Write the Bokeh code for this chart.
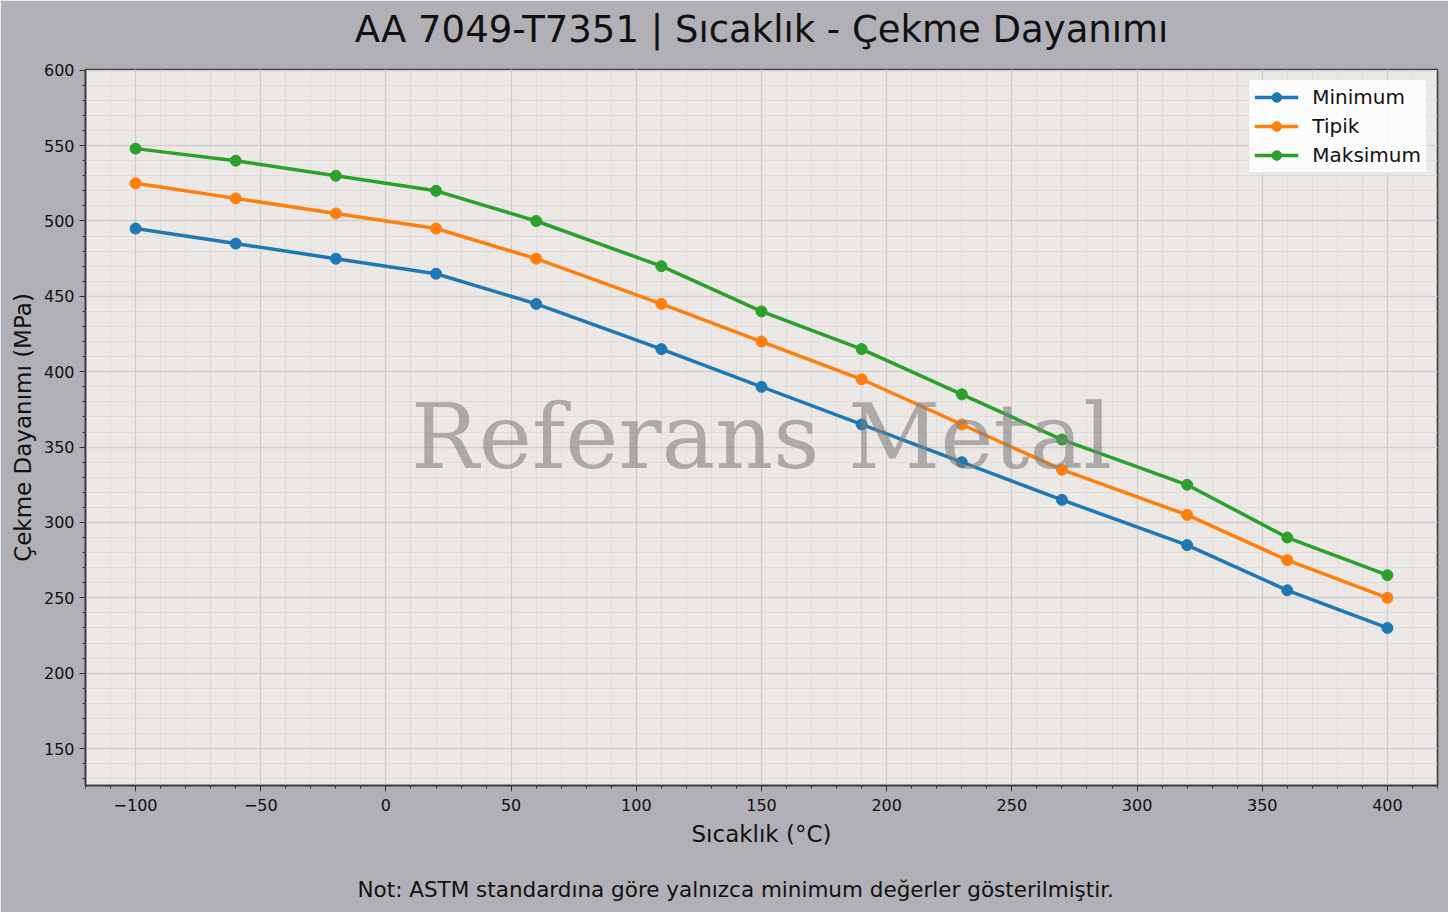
from bokeh.plotting import figure
from bokeh.embed import file_html
from bokeh.resources import INLINE
from bokeh.models import Label, Range1d, FixedTicker, Legend, Title

temps = [-100, -60, -20, 20, 60, 110, 150, 190, 230, 270, 320, 360, 400]
minimum = [495, 485, 475, 465, 445, 415, 390, 365, 340, 315, 285, 255, 230]
tipik = [525, 515, 505, 495, 475, 445, 420, 395, 365, 335, 305, 275, 250]
maksimum = [548, 540, 530, 520, 500, 470, 440, 415, 385, 355, 325, 290, 265]
x_ticks = [-100, -50, 0, 50, 100, 150, 200, 250, 300, 350, 400]
y_ticks = [150, 200, 250, 300, 350, 400, 450, 500, 550, 600]

series = [("Minimum", minimum, "#1f77b4"), ("Tipik", tipik, "#ff7f0e"), ("Maksimum", maksimum, "#2ca02c")]

FONT = "DejaVu Sans"
BG = "#b1b0b6"

p = figure(width=1448, height=912, output_backend="svg", toolbar_location=None,
           x_range=Range1d(-120, 420), y_range=Range1d(125.5, 600.5),
           min_border_left=85, min_border_right=11, min_border_bottom=20, min_border_top=10)
p.title = None
p.border_fill_color = BG
p.background_fill_color = "#ebe8e6"
p.outline_line_color = "#333333"
p.outline_line_width = 1.5

for ax in (p.xaxis[0], p.yaxis[0]):
    ax.axis_line_color = "#333333"
    ax.axis_line_width = 1.5
    ax.major_tick_line_color = "#333333"
    ax.minor_tick_line_color = "#333333"
    ax.major_tick_out = 6
    ax.major_tick_in = 0
    ax.minor_tick_out = 3
    ax.minor_tick_in = 0
    ax.major_label_text_font = FONT
    ax.major_label_text_font_size = "16px"
    ax.major_label_text_color = "#111111"
    ax.axis_label_text_font = FONT
    ax.axis_label_text_font_size = "23px"
    ax.axis_label_text_font_style = "normal"
    ax.axis_label_text_color = "#111111"

p.xaxis.major_label_standoff = 7
p.xaxis.axis_label_standoff = 7
p.yaxis.axis_label_standoff = 5

p.xaxis.ticker = FixedTicker(ticks=x_ticks, minor_ticks=list(range(-120, 421, 10)))
p.yaxis.ticker = FixedTicker(ticks=y_ticks, minor_ticks=list(range(130, 601, 10)))
p.xaxis.major_label_overrides = {t: str(t).replace("-", "\u2212") for t in x_ticks}
p.xaxis.axis_label = "Sıcaklık (°C)"
p.yaxis.axis_label = "Çekme Dayanımı (MPa)"

p.xgrid.grid_line_color = "#d1cdcc"
p.ygrid.grid_line_color = "#d1cdcc"
p.xgrid.grid_line_width = 1.3
p.ygrid.grid_line_width = 1.3
p.xgrid.minor_grid_line_color = "#e0dcda"
p.ygrid.minor_grid_line_color = "#e0dcda"

legend_items = []
for name, vals, col in series:
    r1 = p.line(temps, vals, line_color=col, line_width=3.5)
    r2 = p.scatter(temps, vals, marker="circle", size=11, fill_color=col, line_color=col)
    legend_items.append((name, [r1, r2]))

legend = Legend(items=legend_items, location="top_right")
legend.label_text_font = FONT
legend.label_text_font_size = "20px"
legend.label_text_color = "#111111"
legend.glyph_width = 44
legend.glyph_height = 24
legend.spacing = 5
legend.padding = 5
legend.label_standoff = 14
legend.border_line_color = "#cccccc"
legend.border_line_width = 1.2
legend.background_fill_color = "white"
legend.background_fill_alpha = 0.85
legend.margin = 10
p.add_layout(legend, "center")

wm = Label(x=676, y=349, x_units="screen", y_units="screen", text="Referans Metal",
           text_font="DejaVu Serif", text_font_size="90px", text_color="#808080",
           text_alpha=0.6, text_align="center", text_baseline="middle")
p.add_layout(wm)

# above: spacer nearest the frame, then main title
top_spacer = Title(text=" ", text_font_size="4px", standoff=7)
p.add_layout(top_spacer, "above")
main_title = Title(text="AA 7049-T7351 | Sıcaklık - Çekme Dayanımı", align="center",
                   text_font=FONT, text_font_size="37px", text_font_style="normal",
                   text_color="#111111", standoff=10)
p.add_layout(main_title, "above")

# below: spacer after x axis, then footnote
bottom_spacer = Title(text=" ", text_font_size="4px", standoff=7)
p.add_layout(bottom_spacer, "below")
note = Title(text="Not: ASTM standardına göre yalnızca minimum değerler gösterilmiştir.",
             align="left", offset=272, standoff=22,
             text_font=FONT, text_font_size="21.5px", text_font_style="normal",
             text_color="#111111")
p.add_layout(note, "below")

html = file_html(p, INLINE)
html = html.replace("<body>", '<body style="background-color:%s;">' % BG, 1)
open("out.html", "w").write(html)
